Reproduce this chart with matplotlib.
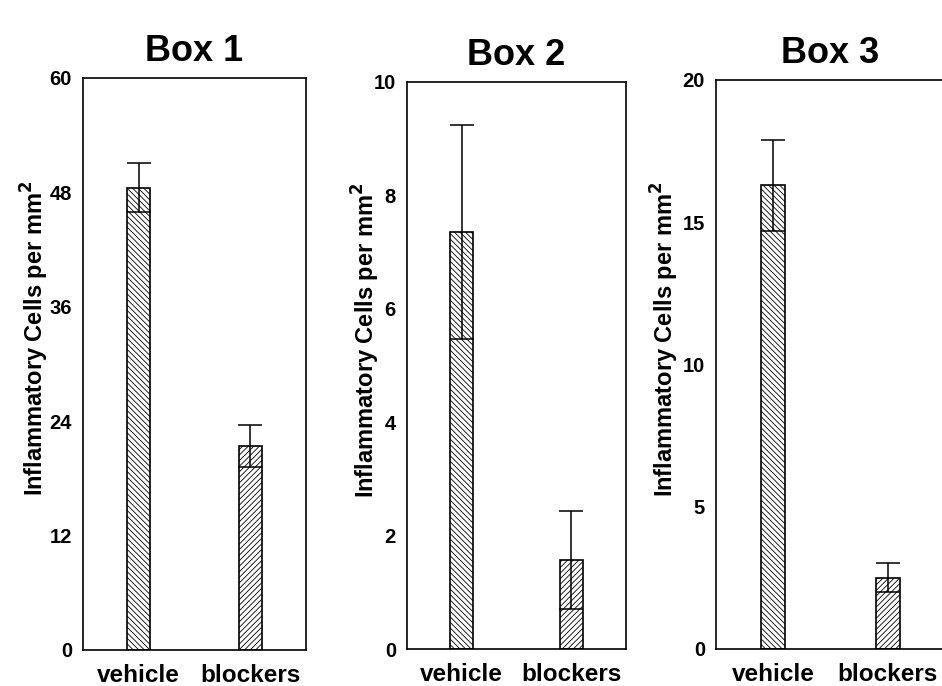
import matplotlib
matplotlib.use('Agg')
import matplotlib.pyplot as plt
import matplotlib.font_manager as fm

plt.rcParams['font.family'] = ['Liberation Sans', 'DejaVu Sans']
plt.rcParams['hatch.linewidth'] = 0.6
plt.rcParams['hatch.color'] = '#444444'

# data
groups = ['vehicle', 'blockers']
titles = ['Box 1', 'Box 2', 'Box 3']
means = [[48.5, 21.4], [7.35, 1.57], [16.3, 2.5]]
errors = [[2.6, 2.2], [1.88, 0.86], [1.6, 0.5]]
yticks = [[0, 12, 24, 36, 48, 60], [0, 2, 4, 6, 8, 10], [0, 5, 10, 15, 20]]
hatches = ['\\' * 6, '/' * 6]

# the titles use a very narrow bold face; take a narrow one if there is one
names = {f.name for f in fm.fontManager.ttflist}
if 'Liberation Sans Narrow' in names:
    title_font, title_size = 'Liberation Sans Narrow', 32
else:
    title_font, title_size = 'Liberation Sans', 26

fig = plt.figure(figsize=(9.42, 6.86), dpi=100)
boxes = [
    [0.0881, 0.0525, 0.2367, 0.8338],
    [0.4321, 0.0539, 0.2325, 0.8270],
    [0.7601, 0.0544, 0.2431, 0.8290],
]
label_x = [-0.143, -0.114, -0.153]

for i in range(3):
    ax = fig.add_axes(boxes[i])
    x = list(range(len(groups)))
    bars = ax.bar(x, means[i], width=0.21, color='white', edgecolor='black',
                  linewidth=1.2, zorder=2)
    for bar, h in zip(bars, hatches):
        bar.set_hatch(h)
    ax.errorbar(x, means[i], yerr=errors[i], fmt='none', ecolor='black',
                elinewidth=1.1, capsize=8.6, capthick=1.1, zorder=3)

    ax.set_xlim(-0.5, 1.5)
    ax.set_ylim(yticks[i][0], yticks[i][-1])
    ax.set_yticks(yticks[i])
    ax.set_xticks(x)
    ax.set_xticklabels(groups)
    ax.tick_params(axis='both', length=0)
    ax.tick_params(axis='x', pad=10, labelsize=17.5)
    ax.tick_params(axis='y', pad=8, labelsize=14.5)
    for lab in ax.get_xticklabels() + ax.get_yticklabels():
        lab.set_fontweight('bold')
    for sp in ax.spines.values():
        sp.set_linewidth(1.2)
        sp.set_color('black')

    ax.set_ylabel('Inflammatory Cells per mm$^{\\mathbf{2}}$', fontsize=17,
                  fontweight='bold')
    ax.yaxis.set_label_coords(label_x[i], 0.545)
    ax.set_title(titles[i], fontsize=title_size, fontweight='bold', pad=12,
                 family=title_font)

fig.savefig('out.png', dpi=100, facecolor='white')
